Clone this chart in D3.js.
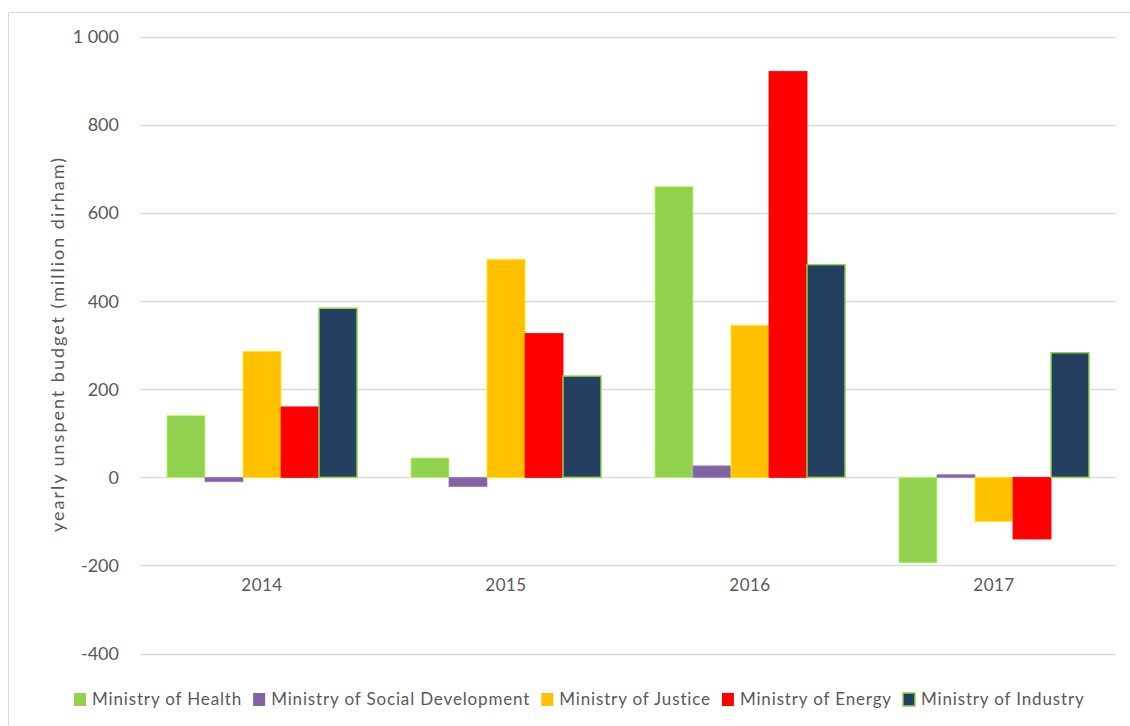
<!DOCTYPE html>
<html>
<head>
<meta charset="utf-8">
<script src="https://cdn.jsdelivr.net/npm/d3@7"></script>
<style>
  body { margin: 0; background: #fff; }
  text { font-family: Lato, "Open Sans", sans-serif; fill: #595959; }
</style>
</head>
<body>
<div id="chart"></div>
<script>
const years = ["2014", "2015", "2016", "2017"];
const ministries = ["Ministry of Health", "Ministry of Social Development", "Ministry of Justice", "Ministry of Energy", "Ministry of Industry"];
const colors = ["#92D050", "#8064A2", "#FFC000", "#FF0000", "#243F60"];
const health = [140, 44, 660, -194];
const social = [-10, -21, 26, 6];
const justice = [286, 495, 345, -100];
const energy = [160, 327, 922, -140];
const industry = [384, 230, 483, 283];
const yTicks = [-400, -200, 0, 200, 400, 600, 800, 1000];

const series = [health, social, justice, energy, industry];

const width = 1130, height = 726;
const svg = d3.select("#chart").append("svg")
    .attr("width", width)
    .attr("height", height);

// outer chart frame
svg.append("rect")
    .attr("x", 8.5).attr("y", 12.5)
    .attr("width", 1140).attr("height", 730)
    .attr("fill", "none")
    .attr("stroke", "#D9D9D9");

let y = d3.scaleLinear().domain([-400, 1000]).range([653.5, 37]);
let x = d3.scaleBand().domain(years).range([140, 1116])
    .paddingInner(0.221).paddingOuter(0.1105);
let xs = d3.scaleBand().domain(d3.range(ministries.length)).range([0, x.bandwidth()]);

// gridlines
svg.append("g").selectAll("line")
    .data(yTicks)
    .enter().append("line")
    .attr("x1", 140).attr("x2", 1116)
    .attr("y1", d => Math.round(y(d)) + 0.5)
    .attr("y2", d => Math.round(y(d)) + 0.5)
    .attr("stroke", "#D9D9D9")
    .attr("stroke-width", 1.3);

// y tick labels, "1 000" style with plain hyphen
let loc = d3.formatLocale({decimal: ".", thousands: " ", grouping: [3], currency: ["", ""], minus: "-"});
let fmt = loc.format(",");
svg.append("g").selectAll("text")
    .data(yTicks)
    .enter().append("text")
    .attr("x", 119)
    .attr("y", d => y(d))
    .attr("dy", "0.35em")
    .attr("text-anchor", "end")
    .style("font-size", "18px")
    .text(fmt);

// bars
series.forEach((vals, k) => {
    svg.append("g").selectAll("rect")
        .data(vals)
        .enter().append("rect")
        .attr("x", (d, i) => x(years[i]) + xs(k))
        .attr("width", xs.bandwidth())
        .attr("y", d => y(Math.max(0, d)))
        .attr("height", d => Math.abs(y(d) - y(0)))
        .attr("fill", colors[k])
        .attr("stroke", k == 4 ? "#92D050" : d3.color(colors[k]).brighter(0.6))
        .attr("stroke-width", k == 4 ? 1.5 : 0.8);
});

// category labels
svg.append("g").selectAll("text")
    .data(years)
    .enter().append("text")
    .attr("x", d => x(d) + x.bandwidth() / 2)
    .attr("y", 591)
    .attr("text-anchor", "middle")
    .style("font-size", "17px")
    .style("letter-spacing", "0.5px")
    .text(d => d);

// y axis title
svg.append("text")
    .attr("transform", "translate(64,345) rotate(-90)")
    .attr("text-anchor", "middle")
    .attr("textLength", 374)
    .attr("lengthAdjust", "spacing")
    .style("font-size", "18px")
    .text("yearly unspent budget (million dirham)");

// legend
let lx = 74;
ministries.forEach((m, k) => {
    svg.append("rect")
        .attr("x", lx).attr("y", 693)
        .attr("width", 12).attr("height", 13)
        .attr("fill", colors[k])
        .attr("stroke", k == 4 ? "#92D050" : "none")
        .attr("stroke-width", 1.5);
    let t = svg.append("text")
        .attr("x", lx + 18).attr("y", 705)
        .style("font-size", "17px")
        .style("letter-spacing", "0.85px")
        .text(m);
    lx += 18 + t.node().getComputedTextLength() + 11;
});
</script>
</body>
</html>
